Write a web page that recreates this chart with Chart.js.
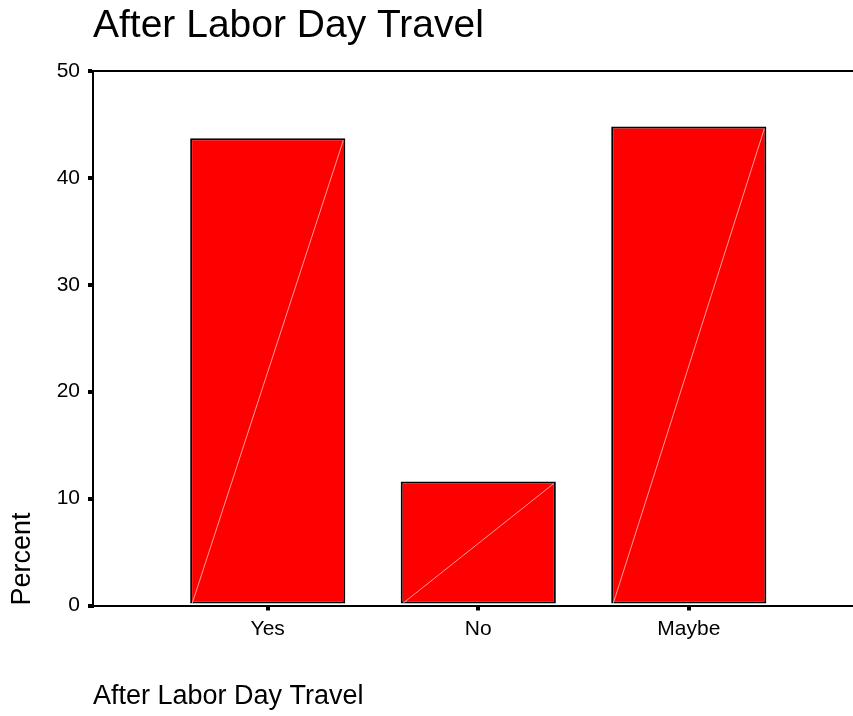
<!DOCTYPE html>
<html>
<head>
<meta charset="utf-8">
<script src="https://cdn.jsdelivr.net/npm/chart.js@4/dist/chart.umd.min.js"></script>
<style>
  html, body { margin: 0; padding: 0; background: #fff; }
  #wrap { width: 853px; height: 716px; }
</style>
</head>
<body>
<div id="wrap"><canvas id="c" width="853" height="716"></canvas></div>
<script>
const chartTitle = 'After Labor Day Travel';
const xAxisTitle = 'After Labor Day Travel';
const yAxisTitle = 'Percent';
const categories = ['Yes', 'No', 'Maybe'];
const percentValues = [43.7, 11.6, 44.8];
const categoryPositions = [1, 2, 3];
const yTicks = [0, 10, 20, 30, 40, 50];

const FONT = "Arial, 'Liberation Sans', sans-serif";

const points = categories.map((c, i) => ({ x: categoryPositions[i], y: percentValues[i] }));

const framePlugin = {
  id: 'frame',
  afterDatasetsDraw(chart) {
    const ctx = chart.ctx;
    const meta = chart.getDatasetMeta(0);
    ctx.save();
    ctx.strokeStyle = 'rgba(255,215,215,0.9)';
    ctx.lineWidth = 0.8;
    meta.data.forEach(bar => {
      const p = bar.getProps(['x', 'y', 'base', 'width'], true);
      ctx.beginPath();
      ctx.moveTo(p.x - p.width / 2 + 2, p.base);
      ctx.lineTo(p.x + p.width / 2 - 2, p.y + 2);
      ctx.stroke();
    });
    ctx.restore();
  },
  afterDraw(chart) {
    const ctx = chart.ctx;
    const a = chart.chartArea;
    ctx.save();
    ctx.strokeStyle = '#000';
    ctx.lineWidth = 2;
    ctx.beginPath();
    ctx.moveTo(a.left, a.top);
    ctx.lineTo(chart.width, a.top);
    ctx.stroke();
    ctx.restore();
  }
};

new Chart(document.getElementById('c'), {
  type: 'bar',
  data: {
    datasets: [{
      data: points,
      backgroundColor: '#ff0000',
      borderColor: '#000000',
      borderWidth: 2,
      borderSkipped: false,
      barPercentage: 0.737,
      categoryPercentage: 1
    }]
  },
  options: {
    responsive: false,
    animation: false,
    devicePixelRatio: 1,
    layout: { padding: 0 },
    plugins: {
      legend: { display: false },
      tooltip: { enabled: false },
      title: {
        display: true,
        text: chartTitle,
        align: 'start',
        fullSize: false,
        color: '#000',
        font: { family: FONT, size: 39, weight: 'normal', lineHeight: 1.2 },
        padding: { top: 3, bottom: 21.2 }
      }
    },
    scales: {
      x: {
        type: 'linear',
        offset: false,
        min: 0.17,
        max: 3.78,
        afterFit(scale) { scale.height = 110.5; },
        afterBuildTicks(scale) { scale.ticks = categoryPositions.map(v => ({ value: v })); },
        ticks: {
          color: '#000',
          font: { family: FONT, size: 21 },
          padding: 6,
          maxRotation: 0,
          autoSkip: false,
          callback: (v) => { const i = categoryPositions.indexOf(v); return i >= 0 ? categories[i] : ''; }
        },
        grid: { display: true, offset: false, drawOnChartArea: false, drawTicks: true, tickLength: 5, lineWidth: 4, color: '#000' },
        border: { display: true, color: '#000', width: 2 },
        title: {
          display: true,
          text: xAxisTitle,
          align: 'start',
          color: '#000',
          font: { family: FONT, size: 27, lineHeight: 1.2 },
          padding: { top: 0, bottom: 3 }
        }
      },
      y: {
        min: 0,
        max: 50,
        afterFit(scale) { scale.width = 93; },
        afterBuildTicks(scale) { scale.ticks = yTicks.map(v => ({ value: v })); },
        ticks: {
          color: '#000',
          font: { family: FONT, size: 21 },
          padding: 8
        },
        grid: { display: true, drawOnChartArea: false, drawTicks: true, tickLength: 5, lineWidth: 4, color: '#000' },
        border: { display: true, color: '#000', width: 2 },
        title: {
          display: true,
          text: yAxisTitle,
          align: 'start',
          color: '#000',
          font: { family: FONT, size: 27, lineHeight: 1.2 },
          padding: { top: 6, bottom: 0 }
        }
      }
    }
  },
  plugins: [framePlugin]
});
</script>
</body>
</html>
